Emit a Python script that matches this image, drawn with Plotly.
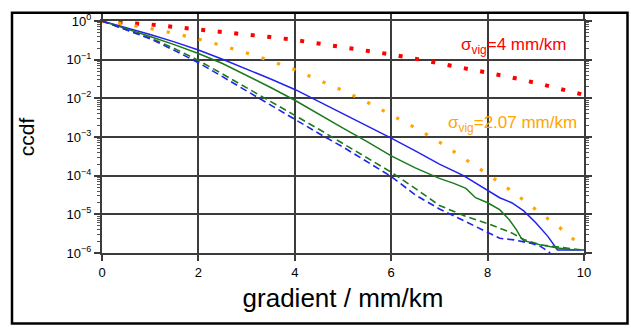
import plotly.graph_objects as go

# ---- data (x in mm/km, ccdf as log10 exponents) ----
x_grid = [0, 0.5, 1, 1.5, 2, 2.5, 3, 3.5, 4, 4.5, 5, 5.5, 6, 6.5, 7, 7.5, 8, 8.5, 9, 9.5, 10]

red_log10 = [0, -0.04, -0.09, -0.155, -0.215, -0.28, -0.345, -0.415, -0.49, -0.58, -0.67,
             -0.76, -0.865, -0.975, -1.09, -1.21, -1.335, -1.46, -1.60, -1.75, -1.91]
orange_log10 = [0, -0.085, -0.195, -0.32, -0.47, -0.635, -0.83, -1.03, -1.26, -1.52, -1.80,
                -2.10, -2.42, -2.76, -3.13, -3.54, -3.96, -4.40, -4.87, -5.35, -5.87]

blue_x = [0, 0.5, 1, 1.5, 2, 2.5, 3, 3.5, 4, 4.5, 5, 5.5, 6, 6.5, 7, 7.5, 8, 8.25, 8.5, 8.75,
          9, 9.25, 9.45, 10]
blue_log10 = [0, -0.17, -0.35, -0.54, -0.75, -0.99, -1.24, -1.50, -1.77, -2.08, -2.40, -2.71,
              -3.03, -3.36, -3.70, -4.00, -4.38, -4.57, -4.70, -4.91, -5.22, -5.57, -5.92, -5.92]

green_x = [0, 0.5, 1, 1.5, 2, 2.5, 3, 3.5, 4, 4.5, 5, 5.5, 6, 6.5, 7, 7.3, 7.55, 7.75, 8, 8.25,
           8.45, 8.6, 8.7, 8.75, 9.1, 9.45, 9.8]
green_log10 = [0, -0.19, -0.40, -0.61, -0.84, -1.10, -1.40, -1.72, -2.05, -2.42, -2.77, -3.12,
               -3.49, -3.80, -4.07, -4.20, -4.33, -4.57, -4.70, -4.88, -5.14, -5.40, -5.62,
               -5.68, -5.79, -5.87, -5.92]

green_dash_x = [0, 0.5, 1, 1.5, 2, 2.5, 3, 3.5, 4, 4.5, 5, 5.5, 6, 6.5, 7, 7.5, 8, 8.5, 8.75,
                9.1, 9.45, 9.8, 10]
green_dash_log10 = [0, -0.21, -0.44, -0.71, -1.02, -1.37, -1.72, -2.08, -2.44, -2.80, -3.17,
                    -3.54, -3.91, -4.33, -4.77, -5.03, -5.24, -5.48, -5.65, -5.79, -5.85,
                    -5.90, -5.93]

blue_dash_x = [0, 0.5, 1, 1.5, 2, 2.5, 3, 3.5, 4, 4.5, 5, 5.5, 6, 6.5, 7, 7.5, 8, 8.25, 8.55,
               8.9, 9.1, 9.3]
blue_dash_log10 = [0, -0.22, -0.46, -0.76, -1.08, -1.44, -1.81, -2.18, -2.55, -2.91, -3.26,
                   -3.64, -4.02, -4.50, -4.86, -5.16, -5.46, -5.62, -5.66, -5.75, -5.83, -6.0]

y_tick_vals = [1e-6, 1e-5, 1e-4, 1e-3, 1e-2, 1e-1, 1]
y_tick_text = ["10<sup>−6</sup>", "10<sup>−5</sup>", "10<sup>−4</sup>", "10<sup>−3</sup>",
               "10<sup>−2</sup>", "10<sup>−1</sup>", "10<sup>0</sup>"]
x_tick_vals = [0, 2, 4, 6, 8, 10]

label_red = "σ<sub>vig</sub>=4 mm/km"
label_orange = "σ<sub>vig</sub>=2.07 mm/km"


def lin(vals):
    return [10 ** v for v in vals]


BLUE = "#2222ee"
GREEN = "#1b7a1b"
RED = "#ff0000"
ORANGE = "#ffa500"
GRID = "#3c3c3c"

fig = go.Figure()
fig.add_trace(go.Scatter(x=x_grid, y=lin(red_log10), mode="lines",
                         line=dict(color=RED, width=4, dash="4px,12.6px")))
fig.add_trace(go.Scatter(x=x_grid, y=lin(orange_log10), mode="lines",
                         line=dict(color=ORANGE, width=3.2, dash="3.2px,13.2px")))
fig.add_trace(go.Scatter(x=blue_x, y=lin(blue_log10), mode="lines",
                         line=dict(color=BLUE, width=1.5)))
fig.add_trace(go.Scatter(x=green_x, y=lin(green_log10), mode="lines",
                         line=dict(color=GREEN, width=1.5)))
fig.add_trace(go.Scatter(x=green_dash_x, y=lin(green_dash_log10), mode="lines",
                         line=dict(color=GREEN, width=1.6, dash="7px,4px")))
fig.add_trace(go.Scatter(x=blue_dash_x, y=lin(blue_dash_log10), mode="lines",
                         line=dict(color=BLUE, width=1.6, dash="7px,4px")))

fig.add_annotation(x=8.55, y=-0.64, xref="x", yref="y", text=label_red, showarrow=False,
                   font=dict(color=RED, size=17))
fig.add_annotation(x=8.52, y=-2.66, xref="x", yref="y", text=label_orange, showarrow=False,
                   font=dict(color=ORANGE, size=17))

W, H = 631, 329
ML, MR, MT, MB = 102, 47, 14, 76
pw, ph = W - ML - MR, H - MT - MB


def px_x(p):
    return (p - ML) / pw


def px_y(p):
    return (H - MB - p) / ph


# outer frame
fig.add_shape(type="rect", xref="paper", yref="paper", x0=px_x(12), x1=px_x(627.5),
              y0=px_y(325.5), y1=px_y(5.5), line=dict(color="black", width=2.5), layer="above")

minor_vals = [k * 10 ** p for p in range(-6, 0) for k in range(2, 10)]

fig.update_layout(
    width=W, height=H,
    margin=dict(l=ML, r=MR, t=MT, b=MB),
    paper_bgcolor="white", plot_bgcolor="white",
    showlegend=False,
    font=dict(family="Liberation Sans, Arial, sans-serif", color="black"),
    xaxis=dict(
        range=[0, 10], tickmode="array", tickvals=x_tick_vals,
        showgrid=True, gridcolor=GRID, gridwidth=1.5,
        showline=True, linecolor=GRID, linewidth=2, mirror="ticks",
        ticks="outside", ticklen=6, tickwidth=1.5, tickcolor=GRID,
        tickfont=dict(size=13), zeroline=False,
        title=dict(text="gradient / mm/km", font=dict(size=26), standoff=10),
    ),
    yaxis=dict(
        type="log", range=[-6, 0], tickmode="array", tickvals=y_tick_vals,
        ticktext=y_tick_text,
        showgrid=True, gridcolor=GRID, gridwidth=1.5,
        showline=True, linecolor=GRID, linewidth=2, mirror="ticks",
        ticks="outside", ticklen=6, tickwidth=1.5, tickcolor=GRID,
        tickfont=dict(size=13), zeroline=False,
        minor=dict(tickmode="array", tickvals=minor_vals, ticks="outside", ticklen=3,
                   tickwidth=1, tickcolor="#555555", showgrid=False),
        title=dict(text="ccdf", font=dict(size=21), standoff=26),
    ),
)

fig.write_html(
    "out.html",
    config={"displayModeBar": False},
    post_script="document.body.style.margin='0';"
                "document.documentElement.style.overflow='hidden';",
)
